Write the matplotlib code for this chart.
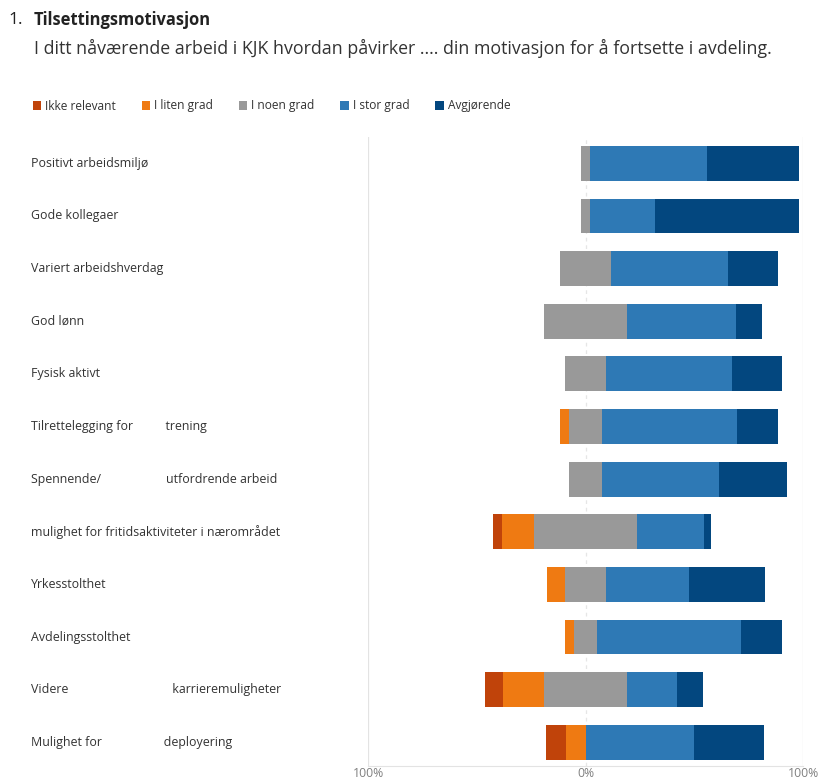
import matplotlib.pyplot as plt
import matplotlib.transforms as mtransforms
import numpy as np

plt.rcParams['font.family'] = ['Open Sans', 'DejaVu Sans']

kategorier = [
    "Positivt arbeidsmiljø",
    "Gode kollegaer",
    "Variert arbeidshverdag",
    "God lønn",
    "Fysisk aktivt",
    "Tilrettelegging for          trening",
    "Spennende/                    utfordrende arbeid",
    "mulighet for fritidsaktiviteter i nærområdet",
    "Yrkesstolthet",
    "Avdelingsstolthet",
    "Videre                                karrieremuligheter",
    "Mulighet for                   deployering",
]

serier = ["Ikke relevant", "I liten grad", "I noen grad", "I stor grad", "Avgjørende"]

# prosent per kategori
ikke_relevant = [0, 0, 0, 0, 0, 0, 0, 4, 0, 0, 8, 9]
liten_grad = [0, 0, 0, 0, 0, 4, 0, 15, 8, 4, 19, 9]
noen_grad = [4, 4, 23, 38, 19, 15, 15, 47, 19, 11, 38, 0]
stor_grad = [54, 30, 54, 50, 58, 62, 54, 31, 38, 66, 23, 50]
avgjorende = [42, 66, 23, 12, 23, 19, 31, 3, 35, 19, 12, 32]

farger = ["#C0430A", "#EF7A12", "#999999", "#2E79B5", "#03477F"]

fig = plt.figure(figsize=(8.19, 7.8), dpi=100)
ax = fig.add_axes([368 / 819, 1 - 766 / 780, 435 / 819, (766 - 137) / 780])

data = np.array([ikke_relevant, liten_grad, noen_grad, stor_grad, avgjorende], dtype=float)
y = np.arange(len(kategorier))

# divergerende: noytral midtstilt paa 0
start = -(data[0] + data[1] + data[2] / 2)
for i in range(len(serier)):
    ax.barh(y, data[i], left=start, height=0.66, color=farger[i], label=serier[i])
    start = start + data[i]

ax.set_xlim(-100, 100)
ax.set_ylim(len(kategorier) - 0.55, -0.5)

for xv in [-100, 100]:
    ax.axvline(xv, color="#e3e3e3", lw=0.9, zorder=0)
ax.axvline(0, color="#e6e6e6", lw=0.9, ls=(0, (3, 3)), zorder=0)

for s in ["top", "left", "right"]:
    ax.spines[s].set_visible(False)
ax.spines["bottom"].set_color("#e3e3e3")
ax.set_yticks([])
ax.set_xticks([-100, 0, 100])
ax.set_xticklabels(["100%", "0%", "100%"], color="#808080", fontsize=8.8)
ax.tick_params(axis="x", length=0, pad=0.5)

trans = mtransforms.blended_transform_factory(fig.transFigure, ax.transData)
for i, k in enumerate(kategorier):
    ax.text(31 / 819, i, k, transform=trans, ha="left", va="center",
            fontsize=8.9, color="#333333")

fig.text(8 / 819, 1 - 20 / 780, "1.", fontsize=12.5, va="center", color="#222222")
fig.text(34 / 819, 1 - 20 / 780, "Tilsettingsmotivasjon", fontsize=11.9,
         fontweight="bold", va="center", color="#222222")
fig.text(34 / 819, 1 - 48 / 780,
         "I ditt nåværende arbeid i KJK hvordan påvirker .... din motivasjon for å fortsette i avdeling.",
         fontsize=12.8, va="center", color="#333333")

ax.legend(loc="center left", bbox_to_anchor=(22 / 819, 1 - 106 / 780),
          bbox_transform=fig.transFigure, ncol=5, frameon=False,
          fontsize=8.6, handlelength=0.7, handleheight=0.7, handletextpad=0.35,
          columnspacing=2.15, labelcolor="#333333")

fig.savefig("out.png", dpi=100, facecolor="white")
